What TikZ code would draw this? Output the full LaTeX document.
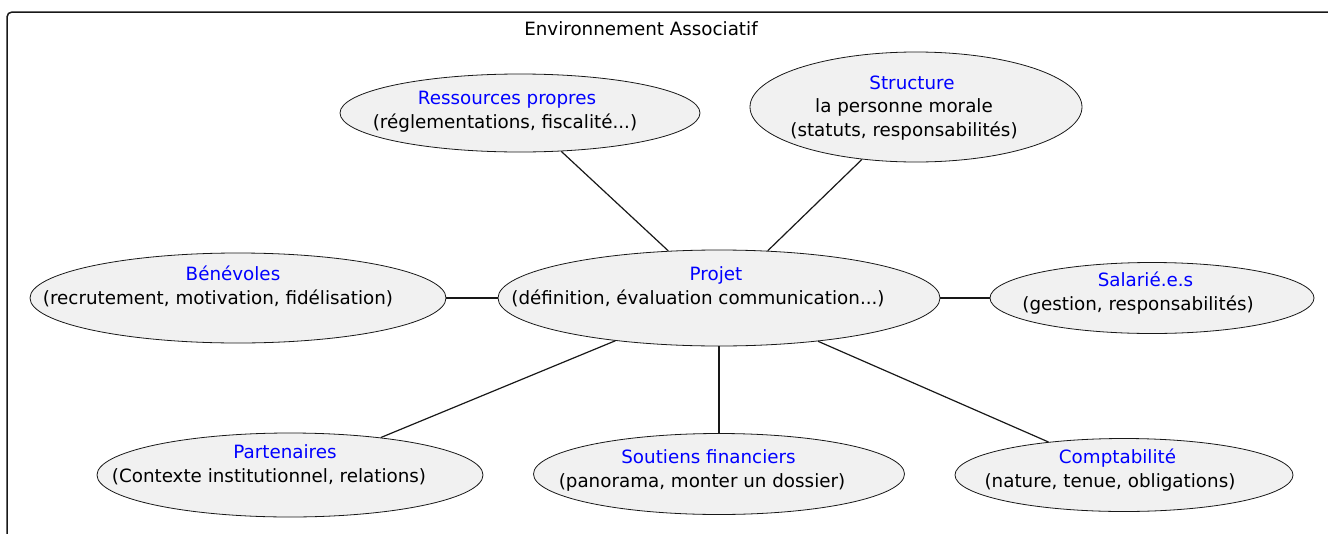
\documentclass[tikz,border=0pt]{standalone}
\usepackage{fontspec}
\setmainfont{DejaVu Sans}
\usepackage{tikz}
\usetikzlibrary{shapes.geometric, positioning}
\definecolor{bord}{HTML}{181818}
\definecolor{fond}{HTML}{F1F1F1}
\tikzstyle{enode} = [ellipse, draw=bord, fill=fond, line width=0.8pt, inner sep=0pt]
\tikzstyle{tnode} = [align=center, font=\fontsize{18.3}{23.5}\selectfont, inner sep=0pt, anchor=base]
\tikzstyle{line} = [draw=bord, line width=1.2pt]
% blue first line, pushed right by #1
\newcommand{\titre}[2]{\hspace*{#1}\textcolor{blue}{#2}}

\begin{document}
\begin{tikzpicture}[x=1pt, y=-1pt]
			\useasboundingbox (0,0) rectangle (1328,533);
			\clip (0,0) rectangle (1328,533);
			\draw [bord, line width=1.5pt, rounded corners=5pt] (7,12) rectangle (1345,550);
			\node [tnode] (env) at (641,35) {Environnement Associatif};
			
			\node [enode, minimum width=442pt, minimum height=96pt] (projet) at (719,298) {};
			\node [enode, minimum width=360pt, minimum height=78pt] (ress) at (520,113) {};
			\node [enode, minimum width=332pt, minimum height=110pt] (struct) at (916,107) {};
			\node [enode, minimum width=416pt, minimum height=90pt] (bene) at (238,298) {};
			\node [enode, minimum width=324pt, minimum height=71pt] (sal) at (1152,298) {};
			\node [enode, minimum width=386pt, minimum height=84pt] (part) at (290,475) {};
			\node [enode, minimum width=371pt, minimum height=81pt] (sout) at (719,474) {};
			\node [enode, minimum width=338pt, minimum height=73pt] (compta) at (1124,475) {};
			
			\path [line] (ress) -- (projet);
			\path [line] (struct) -- (projet);
			\path [line] (bene) -- (projet);
			\path [line] (projet) -- (sal);
			\path [line] (projet) -- (part);
			\path [line] (projet) -- (sout);
			\path [line] (projet) -- (compta);
			
			\node [tnode] (projet-t) at (698,304) {\titre{36pt}{Projet}\\(définition, évaluation communication...)};
			\node [tnode] (ress-t) at (505,128) {\titre{4pt}{Ressources propres}\\(réglementations, fiscalité...)};
			\node [tnode] (struct-t) at (904,136) {\titre{16pt}{Structure}\\la personne morale\\(statuts, responsabilités)};
			\node [tnode] (bene-t) at (218,304) {\titre{30pt}{Bénévoles}\\(recrutement, motivation, fidélisation)};
			\node [tnode] (sal-t) at (1138,310) {\titre{15pt}{Salarié.e.s}\\(gestion, responsabilités)};
			\node [tnode] (part-t) at (269,482) {\titre{32pt}{Partenaires}\\(Contexte institutionnel, relations)};
			\node [tnode] (sout-t) at (702,487) {\titre{13pt}{Soutiens financiers}\\(panorama, monter un dossier)};
			\node [tnode] (compta-t) at (1110,487) {\titre{15pt}{Comptabilité}\\(nature, tenue, obligations)};
		\end{tikzpicture}
\end{document}
